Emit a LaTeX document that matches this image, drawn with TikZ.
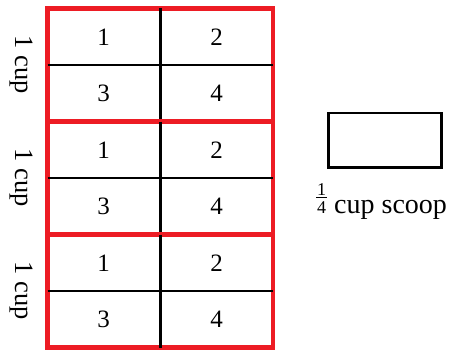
\documentclass[tikz,border=0pt]{standalone}
\usepackage{fontspec}
\setmainfont{Liberation Serif}
\usetikzlibrary{positioning}
\definecolor{rojo}{HTML}{ED1C24}
% fraction 1/4 sitting on the baseline
\newcommand{\cuarto}{{\fontsize{18}{18}\selectfont
  \vbox{\hbox to 11pt{\hss 1\hss}\kern1.5pt\hrule height 1pt\kern3.3pt\hbox to 11pt{\hss 4\hss}}}}
\tikzset{
  every picture/.style={x=1pt, y=-1pt},
  cupbox/.style={draw=rojo, line width=4.5pt, minimum width=225.5pt, minimum height=113pt, inner sep=0pt},
  rejilla/.style={draw=black, line width=2.5pt, shorten <=2.25pt, shorten >=2.25pt},
  cifra/.style={font=\fontsize{25}{27}\selectfont},
  etiqueta/.style={font=\fontsize{26.5}{28}\selectfont, rotate=-90},
  cacito/.style={draw=black, line width=2.5pt, minimum width=113pt, minimum height=54.5pt, inner sep=0pt},
}
\begin{document}
\begin{tikzpicture}
  \useasboundingbox (0,0) rectangle (454,350);
  \foreach \i/\yc in {1/65, 2/178, 3/291} {
    \node[cupbox] (cup\i) at (160.25,\yc) {};
    \draw[rejilla] (cup\i.west) -- (cup\i.east);
    \draw[rejilla] (cup\i.north) -- (cup\i.south);
    \node[cifra] (c\i a) at (103.5,\yc-28) {1};
    \node[cifra] (c\i b) at (216.5,\yc-28) {2};
    \node[cifra] (c\i c) at (103.5,\yc+28) {3};
    \node[cifra] (c\i d) at (216.5,\yc+28) {4};
    \node[etiqueta] (lbl\i) at (21,\yc) {1 cup};
  }
  \node[cacito] (scoop) at (385,140.25) {};
  \node[anchor=base west, inner sep=0pt, font=\fontsize{28}{30}\selectfont] (scooplbl) at (316,213)
    {\cuarto\ cup scoop};
\end{tikzpicture}
\end{document}
